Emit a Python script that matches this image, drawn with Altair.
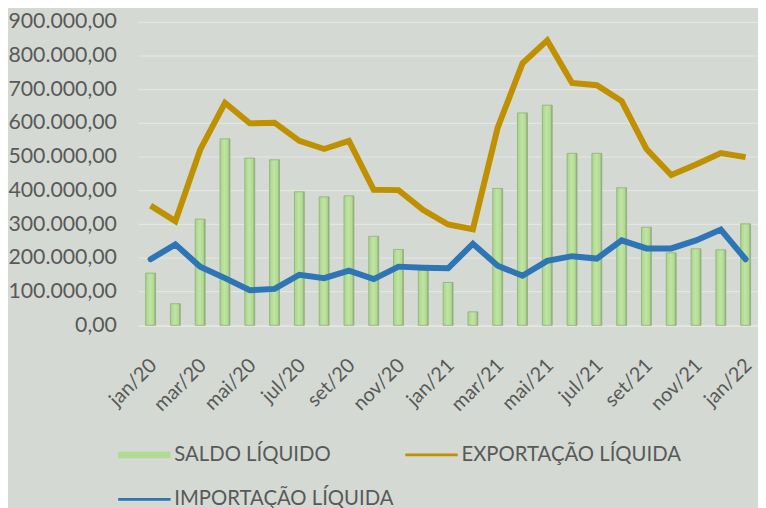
import altair as alt
import pandas as pd

months = ["jan/20", "fev/20", "mar/20", "abr/20", "mai/20", "jun/20", "jul/20", "ago/20",
          "set/20", "out/20", "nov/20", "dez/20", "jan/21", "fev/21", "mar/21", "abr/21",
          "mai/21", "jun/21", "jul/21", "ago/21", "set/21", "out/21", "nov/21", "dez/21", "jan/22"]
saldo = [155000, 64000, 315000, 553000, 496000, 491000, 396000, 381000, 384000, 264000,
         225000, 164000, 127000, 40000, 406000, 630000, 653000, 510000, 510000, 408000,
         291000, 215000, 227000, 224000, 301000]
exportacao = [355000, 309000, 521000, 660000, 599000, 601000, 547000, 523000, 547000, 402000,
              401000, 342000, 299000, 285000, 586000, 777000, 845000, 719000, 712000, 665000,
              523000, 446000, 477000, 511000, 499000]
importacao = [196000, 240000, 174000, 140000, 104000, 108000, 150000, 140000, 162000, 137000,
              174000, 171000, 169000, 242000, 177000, 147000, 191000, 205000, 198000, 252000,
              228000, 228000, 252000, 284000, 196000]
tick_labels = ["jan/20", "mar/20", "mai/20", "jul/20", "set/20", "nov/20", "jan/21", "mar/21",
               "mai/21", "jul/21", "set/21", "nov/21", "jan/22"]
y_ticks = [0, 100000, 200000, 300000, 400000, 500000, 600000, 700000, 800000, 900000]
series_names = ["SALDO LÍQUIDO", "EXPORTAÇÃO LÍQUIDA", "IMPORTAÇÃO LÍQUIDA"]
series_colors = ["#b3da92", "#bf9000", "#2e75b6"]

FONT = "Lato"
TXT = "#595959"

df = pd.DataFrame({"mes": months, "saldo": saldo, "exp": exportacao, "imp": importacao})
legend_df = pd.DataFrame({"serie": series_names})

x_enc = alt.X(
    "mes:N", sort=months, title=None,
    scale=alt.Scale(paddingInner=0, paddingOuter=0),
    axis=alt.Axis(values=tick_labels, labelAngle=-45, labelFontSize=20, labelFont=FONT,
                  labelColor=TXT, labelPadding=30, labelOffset=-4, ticks=False,
                  domainColor="#e6e8e4", domainWidth=1, grid=False, labelOverlap=False,
                  labelBound=False),
)
label_expr = ("replace(replace(replace(format(datum.value, ',.2f'), regexp('[,]','g'), '#'), "
              "regexp('[.]','g'), ','), regexp('[#]','g'), '.')")


def y_enc(field):
    return alt.Y(
        field, title=None,
        scale=alt.Scale(domain=[0, 900000], nice=False),
        axis=alt.Axis(values=y_ticks, labelExpr=label_expr, labelFontSize=21.5, labelFont=FONT,
                      labelColor=TXT, labelPadding=22, ticks=False, domain=False,
                      labelOverlap=False, labelBound=False, tickCount=10,
                      gridColor="#e3e6e1", gridWidth=1.2),
    )


bar_fill = alt.Gradient(
    gradient="linear", x1=0, x2=1, y1=0, y2=0,
    stops=[alt.GradientStop(offset=0, color="#a8d488"),
           alt.GradientStop(offset=0.45, color="#c0e5a3"),
           alt.GradientStop(offset=0.8, color="#b2da92"),
           alt.GradientStop(offset=1, color="#86a474")],
)

base = alt.Chart(df)
bars = base.mark_bar(size=10, color=bar_fill, stroke="#8fae7c", strokeWidth=0.8).encode(
    x=x_enc, y=y_enc("saldo:Q")
)
line_exp = base.mark_line(color="#bf9000", strokeWidth=6, strokeJoin="miter").encode(
    x=x_enc, y=y_enc("exp:Q")
)
line_imp = base.mark_line(color="#2e75b6", strokeWidth=6, strokeJoin="miter",
                          strokeCap="round").encode(
    x=x_enc, y=y_enc("imp:Q")
)

shape_paths = ["M-2.65,-0.33H2.65V0.33H-2.65Z",
               "M-2.65,-0.14H2.65V0.14H-2.65Z",
               "M-2.65,-0.14H2.65V0.14H-2.65Z"]


def make_legend():
    return alt.Legend(title=None, orient="none", legendX=-4, legendY=427, values=series_names,
                      direction="horizontal", columns=2, columnPadding=11, rowPadding=24,
                      symbolSize=400, labelOffset=20, labelFont=FONT,
                      labelFontSize=20.5, labelColor=TXT, symbolStrokeWidth=0,
                      symbolOpacity=1, labelLimit=400, padding=0)


legend_layer = alt.Chart(legend_df).transform_filter("false").mark_point(filled=True).encode(
    color=alt.Color("serie:N", scale=alt.Scale(domain=series_names, range=series_colors),
                    legend=make_legend()),
    shape=alt.Shape("serie:N", scale=alt.Scale(domain=series_names, range=shape_paths),
                    legend=make_legend()),
)

chart = alt.layer(bars, line_exp, line_imp, legend_layer).properties(
    width=626, height=306.5,
    autosize=alt.AutoSizeParams(type="none"),
    padding={"left": 131.5, "top": 11.5, "right": 0, "bottom": 182},
    background="#d5d9d3",
).configure_view(stroke=None)

chart.save("out.html", embed_options={"renderer": "svg", "actions": False})
